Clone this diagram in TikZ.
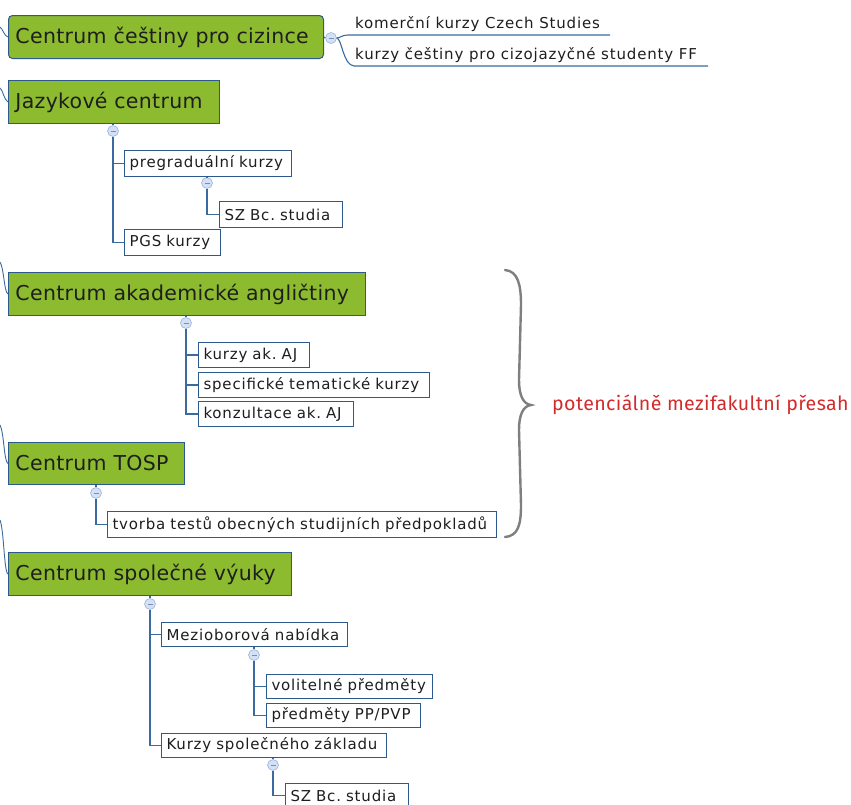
\documentclass[tikz,border=0pt]{standalone}
\usepackage{fontspec}
\setmainfont{DejaVu Sans}
\newfontfamily\bigfnt{DejaVu Sans}[LetterSpace=1.5]
\newfontfamily\childfnt{DejaVu Sans}[LetterSpace=5.5]
\newfontfamily\redfont{Fira Sans}[LetterSpace=2]
\definecolor{greenc}{HTML}{8DBB2F}
\definecolor{bordc}{HTML}{2C5A8C}
\definecolor{linec}{HTML}{3A6A9E}
\definecolor{togfill}{HTML}{D3E0F6}
\definecolor{togdraw}{HTML}{9AB3DD}
\definecolor{textc}{HTML}{1E1E1E}
\definecolor{redc}{HTML}{D22B2B}
\definecolor{bracec}{HTML}{7F7F7F}
\frenchspacing
\begin{document}
\begin{tikzpicture}[x=1pt,y=-1pt,
  mainbox/.style={draw=bordc, fill=greenc, line width=1pt, text=textc,
    font=\bigfnt\fontsize{20.5}{23}\selectfont, anchor=north west, inner xsep=7pt, inner ysep=0pt, align=left},
  childbox/.style={draw=bordc, fill=white, line width=1pt, text=textc,
    font=\childfnt\fontsize{15}{17}\selectfont, anchor=north west, inner xsep=5pt, inner ysep=0pt, align=left},
  plaintxt/.style={text=textc, font=\childfnt\fontsize{15}{17}\selectfont, anchor=base west, inner sep=0pt},
  conn/.style={draw=linec, line width=1.1pt},
  rootconn/.style={draw=linec, line width=0.9pt},
  tog/.style={circle, draw=togdraw, fill=togfill, line width=0.6pt, minimum size=11pt, inner sep=0pt},
  togm/.style={draw=togdraw!80!black, line width=0.6pt}
]
\useasboundingbox (0,0) rectangle (851,804);
\clip (0,0) rectangle (851,804);
\newcommand{\togg}[2]{\node[tog] (#1) at (#2) {};
  \draw[togm] ([xshift=-2.5pt]#1.center) -- ([xshift=2.5pt]#1.center);}

% main nodes
\node[mainbox, rounded corners=4pt, text width=301pt, minimum height=43pt] (c1) at (8,15) {Centrum češtiny pro cizince};
\node[mainbox, text width=197pt, minimum height=43pt] (c2) at (8,80) {Jazykové centrum};
\node[mainbox, text width=343pt, minimum height=43pt] (c3) at (8,272) {Centrum akademické angličtiny};
\node[mainbox, text width=162pt, minimum height=42pt] (c4) at (8,442) {Centrum TOSP};
\node[mainbox, text width=269pt, minimum height=43pt] (c5) at (8,552) {Centrum společné výuky};

% root connectors entering from the left
\coordinate (r1) at (0,27);
\coordinate (r2) at (0,88);
\coordinate (r3) at (0,262);
\coordinate (r4) at (0,425);
\coordinate (r5) at (0,520);
\draw[rootconn] (r1) .. controls (3,29) and (4,36) .. (c1.west);
\draw[rootconn] (r2) .. controls (3,90) and (4,100) .. (c2.west);
\draw[rootconn] (r3) .. controls (4,268) and (4,292) .. (c3.west);
\draw[rootconn] (r4) .. controls (4,432) and (4,462) .. (c4.west);
\draw[rootconn] (r5) .. controls (4,530) and (4,572) .. (c5.west);

% children
\node[childbox, text width=157pt, minimum height=26pt] (pk) at (124,150) {pregraduální kurzy};
\node[childbox, text width=113pt, minimum height=26pt] (sz1) at (219,201) {SZ Bc. studia};
\node[childbox, text width=86pt, minimum height=26pt] (pgs) at (124,229) {PGS kurzy};
\node[childbox, text width=101pt, minimum height=25pt] (ak1) at (198,342) {kurzy ak. AJ};
\node[childbox, text width=221pt, minimum height=25pt] (ak2) at (198,372) {specifické tematické kurzy};
\node[childbox, text width=145pt, minimum height=25pt] (ak3) at (198,401) {konzultace ak. AJ};
\node[childbox, text width=379pt, minimum height=26pt] (tv) at (107,511) {tvorba testů obecných studijních předpokladů};
\node[childbox, text width=176pt, minimum height=24pt] (mz) at (161,622) {Mezioborová nabídka};
\node[childbox, text width=156pt, minimum height=24pt] (vol) at (266,674) {volitelné předměty};
\node[childbox, text width=144pt, minimum height=24pt] (pp) at (266,703) {předměty PP/PVP};
\node[childbox, text width=215pt, minimum height=24pt] (ksz) at (161,733) {Kurzy společného základu};
\node[childbox, text width=113pt, minimum height=24pt] (sz2) at (285,783) {SZ Bc. studia};

% toggles and connectors
\togg{t1}{331,38}
\togg{t2}{113,131}
\togg{t2b}{207,183}
\togg{t3}{186,323}
\togg{t4}{96,493}
\togg{t5}{150,604}
\togg{t5a}{254,655}
\togg{t5b}{273,765}

% Centrum cestiny children (underlined topics)
\coordinate (k1e) at (610,35);
\coordinate (k2e) at (708,66);
\node[plaintxt] (k1) at (355,28) {komerční kurzy Czech Studies};
\node[plaintxt] (k2) at (355,59) {kurzy češtiny pro cizojazyčné studenty FF};
\draw[conn] (c1.east) -- (t1.west);
\draw[conn] (t1.east) .. controls (340,38) and (342,35) .. (348,35) -- (k1e);
\draw[conn] (t1.east) .. controls (342,39) and (343,65) .. (354,66) -- (k2e);

\draw[conn] (t2 |- c2.south) -- (t2.north);
\draw[conn] (t2.south) |- (pk.west);
\draw[conn] (t2.south) |- (pgs.west);
\draw[conn] (t2b |- pk.south) -- (t2b.north);
\draw[conn] (t2b.south) |- (sz1.west);

\draw[conn] (t3 |- c3.south) -- (t3.north);
\draw[conn] (t3.south) |- (ak1.west);
\draw[conn] (t3.south) |- (ak2.west);
\draw[conn] (t3.south) |- (ak3.west);

\draw[conn] (t4 |- c4.south) -- (t4.north);
\draw[conn] (t4.south) |- (tv.west);

\draw[conn] (t5 |- c5.south) -- (t5.north);
\draw[conn] (t5.south) |- (mz.west);
\draw[conn] (t5.south) |- (ksz.west);
\draw[conn] (t5a |- mz.south) -- (t5a.north);
\draw[conn] (t5a.south) |- (vol.west);
\draw[conn] (t5a.south) |- (pp.west);
\draw[conn] (t5b |- ksz.south) -- (t5b.north);
\draw[conn] (t5b.south) |- (sz2.west);

% brace and note
\draw[bracec, line width=2.4pt, line cap=round]
  (505,270) .. controls (518,271) and (521,285) .. (521,305)
  -- (519,380) .. controls (519,395) and (523,404) .. (531,405)
  .. controls (523,406) and (519,415) .. (519,430)
  -- (521,505) .. controls (521,525) and (518,536) .. (505,537);
\node[text=redc, font=\redfont\fontsize{19.6}{21}\selectfont, anchor=west, inner sep=0pt] (note) at (552,405) {potenciálně mezifakultní přesah};
\end{tikzpicture}
\end{document}
